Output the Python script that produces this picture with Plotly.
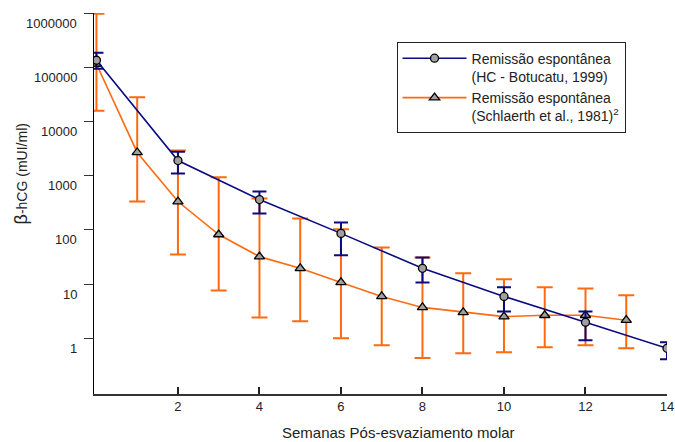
import math
import plotly.graph_objects as go

# ---- data ----
weeks_hc = [0, 2, 4, 6, 8, 10, 12, 14]
hc_mean = [135000, 1900, 362, 86, 19.5, 5.9, 1.97, 0.65]
hc_upper = [186000, 2760, 510, 137, 31, 8.7, 3.1, 0.84]
hc_lower = [94000, 1100, 200, 34, 10.7, 3.1, 0.92, 0.41]

weeks_sc = [0, 1, 2, 3, 4, 5, 6, 7, 8, 9, 10, 11, 12, 13]
sc_mean = [115000, 2680, 333, 82, 32, 19.5, 10.7, 5.9, 3.7, 3.0, 2.5, 2.65, 2.65, 2.15]
sc_upper = [970000, 28000, 2900, 930, 380, 162, 102, 47, 31, 15.8, 12.2, 8.7, 8.3, 6.2]
sc_lower = [15800, 333, 35, 7.6, 2.4, 2.06, 1.0, 0.74, 0.43, 0.53, 0.55, 0.68, 0.74, 0.65]

x_ticks = [2, 4, 6, 8, 10, 12, 14]
y_ticks = [1, 10, 100, 1000, 10000, 100000, 1000000]
y_tick_text = ["1", "10", "100", "1000", "10000", "100000", "1000000"]

name_hc = "Remissão espontânea<br>(HC - Botucatu, 1999)"
name_sc = "Remissão espontânea<br>(Schlaerth et al., 1981)<sup>2</sup>"
x_title = "Semanas Pós-esvaziamento molar"

FONT = "Liberation Sans, Arial, sans-serif"
BLUE = "#0a0a80"
ORANGE = "#ff6a10"
GREY = "#a0a0a0"
TEXT = "#222"

fig = go.Figure()

fig.add_trace(go.Scatter(
    x=weeks_sc, y=sc_mean, name=name_sc, mode="lines+markers",
    line=dict(color=ORANGE, width=1.6),
    marker=dict(symbol="triangle-up", size=9, color=GREY,
                line=dict(color="black", width=1.3)),
    error_y=dict(type="data", symmetric=False,
                 array=[u - m for u, m in zip(sc_upper, sc_mean)],
                 arrayminus=[m - l for m, l in zip(sc_mean, sc_lower)],
                 color=ORANGE, thickness=2, width=8),
    legendrank=2,
))

fig.add_trace(go.Scatter(
    x=weeks_hc, y=hc_mean, name=name_hc, mode="lines+markers",
    line=dict(color=BLUE, width=1.6),
    marker=dict(symbol="circle", size=8, color=GREY,
                line=dict(color="black", width=1.3)),
    error_y=dict(type="data", symmetric=False,
                 array=[u - m for u, m in zip(hc_upper, hc_mean)],
                 arrayminus=[m - l for m, l in zip(hc_mean, hc_lower)],
                 color=BLUE, thickness=2, width=7),
    legendrank=1,
))

# y tick labels sit slightly below their tick marks in the reference
tick_annotations = [
    dict(text=t, xref="paper", yref="y", x=0, y=math.log10(v),
         xanchor="right", yanchor="middle", xshift=-15, yshift=-10,
         showarrow=False, font=dict(family=FONT, size=13, color=TEXT))
    for v, t in zip(y_ticks, y_tick_text)
]

fig.update_layout(
    width=675, height=442,
    margin=dict(l=94, r=8, t=13, b=48, autoexpand=False),
    paper_bgcolor="white", plot_bgcolor="white",
    font=dict(family=FONT, size=13, color=TEXT),
    showlegend=True,
    legend=dict(
        x=0.528, y=0.925, xanchor="left", yanchor="top",
        bordercolor=TEXT, borderwidth=1, bgcolor="white",
        font=dict(family=FONT, size=14, color=TEXT),
        itemwidth=64, valign="top", tracegroupgap=2,
    ),
    xaxis=dict(
        range=[-0.06, 14.0], tickvals=x_ticks, ticks="inside", ticklen=7,
        tickwidth=1.5, tickcolor=TEXT, showline=True, linecolor="#333",
        linewidth=1.5, showgrid=False, zeroline=False, automargin=False,
        tickfont=dict(family=FONT, size=13, color=TEXT),
    ),
    yaxis=dict(
        type="log", range=[-1.03, 6.002], tickvals=y_ticks,
        showticklabels=False,
        ticks="outside", ticklen=9, tickwidth=1.2, tickcolor="#333",
        showline=True, linecolor="black", linewidth=1.2, showgrid=False,
        zeroline=False, automargin=False,
    ),
    annotations=tick_annotations + [
        dict(text=x_title, xref="paper", yref="paper", x=0.532, y=-0.102,
             xanchor="center", yanchor="middle", showarrow=False,
             font=dict(family=FONT, size=15, color=TEXT)),
        dict(text="<span style='font-size:18px'>β</span>-hCG (mUI/ml)",
             xref="paper", yref="paper", x=-0.128, y=0.578,
             xanchor="center", yanchor="middle", textangle=-90, showarrow=False,
             font=dict(family=FONT, size=14, color=TEXT)),
    ],
)

fig.write_html("out.html", config={"displayModeBar": False},
               post_script="document.body.style.margin='0';document.body.style.overflow='hidden';")
